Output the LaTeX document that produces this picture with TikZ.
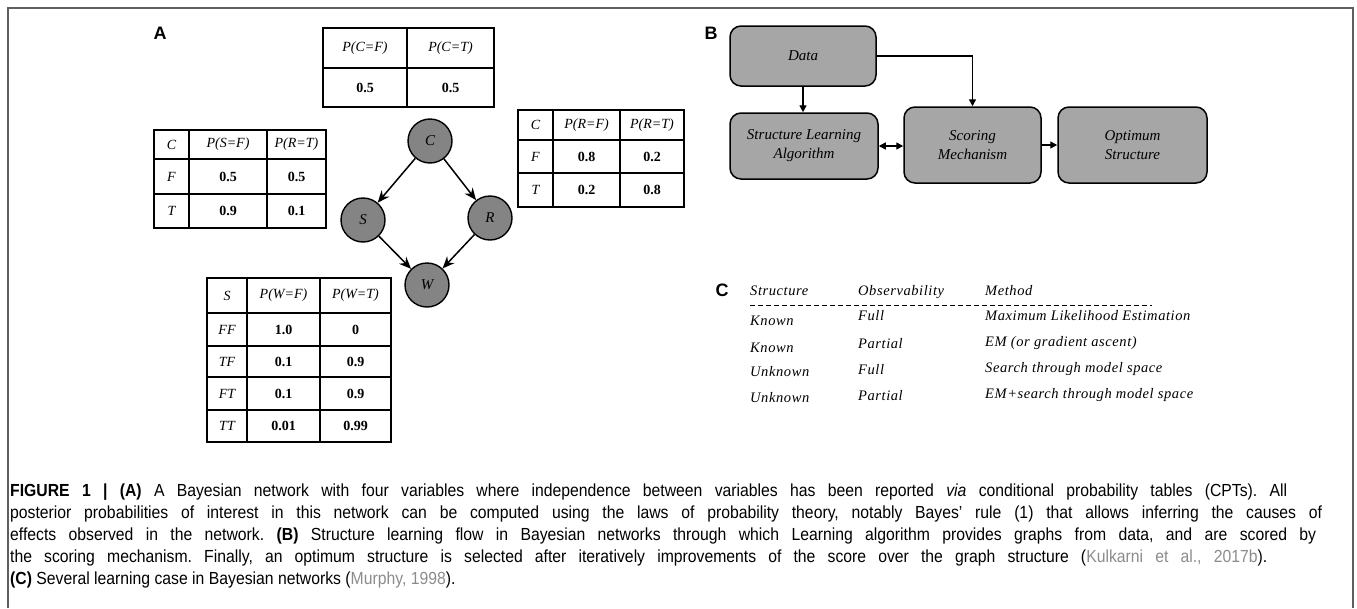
\documentclass[tikz,border=0pt]{standalone}
\usepackage{fontspec}
\setmainfont{Liberation Serif}
\setsansfont{Liberation Sans}
\newfontfamily\capfont[FakeStretch=0.9]{Liberation Sans}
\usetikzlibrary{arrows.meta}

\definecolor{nodefill}{RGB}{132,132,132}
\definecolor{boxfill}{RGB}{166,166,166}
\definecolor{framecol}{RGB}{95,95,95}
\definecolor{citecol}{RGB}{140,140,140}

\tikzset{
  grid/.style={line width=1.6pt, line join=miter},
  hdr/.style={inner sep=0pt, font={\fontsize{14}{16}\selectfont\itshape}},
  val/.style={inner sep=0pt, font={\fontsize{14}{16}\selectfont\bfseries}},
  var/.style={circle, draw, line width=1.4pt, fill=nodefill, minimum size=44pt, inner sep=0pt, font={\fontsize{15}{17}\selectfont\itshape}},
  dep/.style={line width=1.5pt, -{Stealth[length=12pt,width=10pt]}},
  flow/.style={draw, line width=1.5pt, fill=boxfill, rounded corners=11pt, align=center, inner sep=0pt, font={\fontsize{15}{19}\selectfont\itshape}},
  link/.style={line width=1.4pt, -{Triangle[length=7pt,width=7pt]}},
  dlink/.style={line width=1.4pt, {Triangle[length=7pt,width=7pt]}-{Triangle[length=7pt,width=7pt]}},
  panel/.style={inner sep=0pt, font={\fontsize{18}{18}\selectfont\sffamily\bfseries}},
  case/.style={anchor=base west, inner sep=0pt, font={\fontsize{14.5}{16}\selectfont\itshape\addfontfeature{LetterSpace=4}}},
  capline/.style={anchor=base west, inner sep=0pt, font={\fontsize{17.5}{21}\selectfont\capfont\frenchspacing}},
}

\begin{document}
\begin{tikzpicture}[x=1pt,y=-1pt]
\useasboundingbox (0,0) rectangle (1357,608);

% outer frame, open at the bottom
\draw[framecol, line width=1.5pt] (8,608) -- (8,8) -- (1353,8) -- (1353,608);

% panel letters
\node[panel] (labA) at (160,33) {A};
\node[panel] (labB) at (711,33) {B};
\node[panel] (labC) at (722,290) {C};

% ---------- CPT of C ----------
\draw[grid] (323,28) rectangle (494,107);
\draw[grid] (407,28) -- (407,107) (323,68) -- (494,68);
\node[hdr] (c-h1) at (365,48) {P(C=F)};
\node[hdr] (c-h2) at (450.5,48) {P(C=T)};
\node[val] (c-v1) at (365,88) {0.5};
\node[val] (c-v2) at (450.5,88) {0.5};

% ---------- CPT of S ----------
\draw[grid] (154,130) rectangle (326,228);
\draw[grid] (189,130) -- (189,228) (267,130) -- (267,228)
            (154,159) -- (326,159) (154,194) -- (326,194);
\node[hdr] (s-h0) at (171.5,144.5) {C};
\node[hdr] (s-h1) at (228,144.5) {P(S=F)};
\node[hdr] (s-h2) at (296.5,144.5) {P(R=T)};
\node[hdr] (s-r1) at (171.5,176.5) {F};
\node[val] (s-a1) at (228,176.5) {0.5};
\node[val] (s-b1) at (296.5,176.5) {0.5};
\node[hdr] (s-r2) at (171.5,211) {T};
\node[val] (s-a2) at (228,211) {0.9};
\node[val] (s-b2) at (296.5,211) {0.1};

% ---------- CPT of R ----------
\draw[grid] (518,110) rectangle (684,207);
\draw[grid] (553,110) -- (553,207) (620,110) -- (620,207)
            (518,140) -- (684,140) (518,173) -- (684,173);
\node[hdr] (r-h0) at (535.5,125) {C};
\node[hdr] (r-h1) at (586.5,125) {P(R=F)};
\node[hdr] (r-h2) at (652,125) {P(R=T)};
\node[hdr] (r-r1) at (535.5,156.5) {F};
\node[val] (r-a1) at (586.5,156.5) {0.8};
\node[val] (r-b1) at (652,156.5) {0.2};
\node[hdr] (r-r2) at (535.5,190) {T};
\node[val] (r-a2) at (586.5,190) {0.2};
\node[val] (r-b2) at (652,190) {0.8};

% ---------- CPT of W ----------
\draw[grid] (207,278) rectangle (391,442);
\draw[grid] (247,278) -- (247,442) (320,278) -- (320,442)
            (207,313) -- (391,313) (207,346) -- (391,346)
            (207,377) -- (391,377) (207,410) -- (391,410);
\node[hdr] (w-h0) at (227,295.5) {S};
\node[hdr] (w-h1) at (283.5,295.5) {P(W=F)};
\node[hdr] (w-h2) at (355.5,295.5) {P(W=T)};
\node[hdr] (w-r1) at (227,329.5) {FF};
\node[val] (w-a1) at (283.5,329.5) {1.0};
\node[val] (w-b1) at (355.5,329.5) {0};
\node[hdr] (w-r2) at (227,361.5) {TF};
\node[val] (w-a2) at (283.5,361.5) {0.1};
\node[val] (w-b2) at (355.5,361.5) {0.9};
\node[hdr] (w-r3) at (227,393.5) {FT};
\node[val] (w-a3) at (283.5,393.5) {0.1};
\node[val] (w-b3) at (355.5,393.5) {0.9};
\node[hdr] (w-r4) at (227,426) {TT};
\node[val] (w-a4) at (283.5,426) {0.01};
\node[val] (w-b4) at (355.5,426) {0.99};

% ---------- Bayesian network ----------
\node[var] (C) at (430,141) {C};
\node[var] (S) at (363,220) {S};
\node[var] (R) at (490,218) {R};
\node[var] (W) at (427,285) {W};
\draw[dep] (C) -- (S);
\draw[dep] (C) -- (R);
\draw[dep] (S) -- (W);
\draw[dep] (R) -- (W);

% ---------- structure learning flow ----------
\node[flow, minimum width=146pt, minimum height=60pt] (data) at (803,56) {Data};
\node[flow, minimum width=148pt, minimum height=66pt] (sla) at (804,146) {Structure Learning\\Algorithm};
\node[flow, minimum width=137pt, minimum height=76pt] (score) at (972.5,145) {Scoring\\Mechanism};
\node[flow, minimum width=149pt, minimum height=76pt] (opt) at (1132.5,145) {Optimum\\Structure};
\draw[link] (data.south) -- (data.south |- sla.north);
\draw[link] (data.east) -| (score.north);
\draw[dlink] (sla.east) -- (sla.east -| score.west);
\draw[link] (score.east) -- (opt.west);

% ---------- learning cases ----------
\node[case] (t-h1) at (750,295) {Structure};
\node[case] (t-h2) at (858,295) {Observability};
\node[case] (t-h3) at (985,295) {Method};
\coordinate (ruleL) at (750,305);
\coordinate (ruleR) at (1152,305);
\draw[line width=0.8pt, dash pattern=on 5pt off 3pt] (ruleL) -- (ruleR);
\node[case] (t-a1) at (750,325) {Known};
\node[case] (t-a2) at (858,320) {Full};
\node[case] (t-a3) at (985,320) {Maximum Likelihood Estimation};
\node[case] (t-b1) at (750,352) {Known};
\node[case] (t-b2) at (858,348) {Partial};
\node[case] (t-b3) at (985,346) {EM (or gradient ascent)};
\node[case] (t-c1) at (750,376) {Unknown};
\node[case] (t-c2) at (858,374) {Full};
\node[case] (t-c3) at (985,372) {Search through model space};
\node[case] (t-d1) at (750,402) {Unknown};
\node[case] (t-d2) at (858,400) {Partial};
\node[case] (t-d3) at (985,398) {EM+search through model space};

% ---------- caption ----------
\node[capline] (cap1) at (10,496) {\makebox[1277pt][s]{\textbf{FIGURE 1 | (A)} A Bayesian network with four variables where independence between variables has been reported \textit{via} conditional probability tables (CPTs). All}};
\node[capline] (cap2) at (10,518) {\makebox[1312pt][s]{posterior probabilities of interest in this network can be computed using the laws of probability theory, notably Bayes’ rule (1) that allows inferring the causes of}};
\node[capline] (cap3) at (10,540) {\makebox[1306pt][s]{effects observed in the network. \textbf{(B)} Structure learning flow in Bayesian networks through which Learning algorithm provides graphs from data, and are scored by}};
\node[capline] (cap4) at (10,562) {\makebox[1257pt][s]{the scoring mechanism. Finally, an optimum structure is selected after iteratively improvements of the score over the graph structure ({\color{citecol}Kulkarni et al., 2017b}).}};
\node[capline] (cap5) at (10,584) {\textbf{(C)} Several learning case in Bayesian networks ({\color{citecol}Murphy, 1998}).};
\end{tikzpicture}
\end{document}
